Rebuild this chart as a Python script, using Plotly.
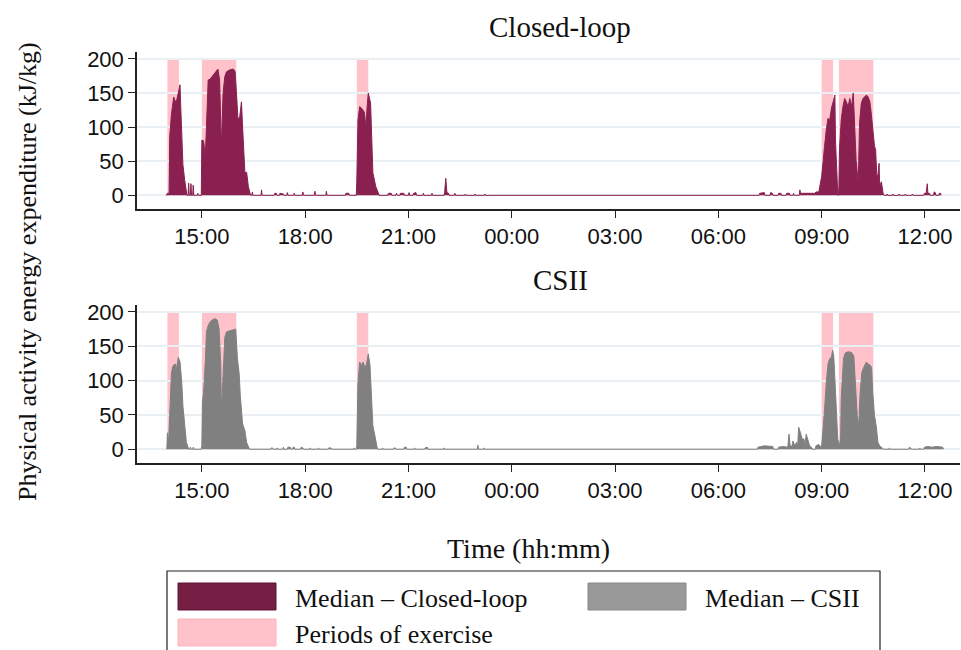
import plotly.graph_objects as go
from plotly.subplots import make_subplots
from datetime import datetime, timedelta

# ---- data: median physical activity energy expenditure (kJ/kg) ----
# clock times; anything before 13:00 belongs to the following morning
cl_time = [
    "13:58", "14:00", "14:03", "14:04", "14:07", "14:11", "14:15", "14:19", "14:22", "14:23",
    "14:25", "14:27", "14:30", "14:33", "14:34", "14:36", "14:37", "14:38", "14:40", "14:41",
    "14:42", "14:44", "14:45", "14:46", "14:52", "14:53", "14:54",
    "14:59", "15:00", "15:03", "15:06", "15:08", "15:11", "15:14", "15:20", "15:24", "15:28",
    "15:31", "15:34", "15:37", "15:40", "15:43", "15:49", "15:55", "15:58", "16:00", "16:03",
    "16:06", "16:09", "16:11", "16:12", "16:15", "16:18", "16:21", "16:24", "16:25",
    "16:27", "16:28", "16:29", "16:43", "16:44", "16:45", "17:06", "17:07", "17:10", "17:11",
    "17:15", "17:16", "17:22", "17:23", "17:28", "17:29", "17:30", "17:40", "17:41", "17:42",
    "17:55", "17:56", "17:57", "18:16", "18:17", "18:18", "18:36", "18:37", "18:38",
    "19:10", "19:11", "19:16", "19:17",
    "19:29", "19:30", "19:32", "19:35", "19:39", "19:43", "19:46", "19:48", "19:50", "19:54",
    "19:56", "19:58", "20:03", "20:07", "20:09",
    "20:24", "20:25", "20:30", "20:31", "20:38", "20:39", "20:41", "20:45", "20:46", "20:52",
    "20:53", "21:00", "21:01", "21:02", "21:08", "21:09", "21:13", "21:14", "21:25", "21:26",
    "21:27", "21:40", "21:41", "21:42", "22:02", "22:03", "22:05", "22:07", "22:10", "22:11",
    "22:20", "22:21", "22:22", "22:38", "22:39", "22:40", "22:55", "22:56", "22:57",
    "23:12", "23:13", "23:14",
    "07:11", "07:12", "07:20", "07:21", "07:30", "07:31", "07:34", "07:35", "07:44", "07:45",
    "07:49", "07:50", "07:58", "07:59", "08:04", "08:05", "08:10", "08:11", "08:12",
    "08:21", "08:22", "08:23", "08:25", "08:35", "08:40", "08:48", "08:50",
    "08:55", "09:00", "09:02", "09:05", "09:08", "09:11", "09:14", "09:17", "09:20", "09:23",
    "09:24", "09:27", "09:28", "09:29",
    "09:30", "09:31", "09:34", "09:37", "09:40", "09:43", "09:46", "09:49", "09:52", "09:55",
    "09:57", "10:00", "10:03",
    "10:04", "10:06", "10:09", "10:12", "10:15", "10:18", "10:21", "10:24", "10:26", "10:29",
    "10:32", "10:34", "10:36", "10:38", "10:40", "10:41", "10:44", "10:47", "10:49",
    "10:53", "10:54", "10:55", "11:03", "11:04", "11:05", "11:14", "11:15", "11:16",
    "11:25", "11:26", "11:27", "11:37", "11:38", "11:39",
    "11:58", "11:59", "12:02", "12:04", "12:05", "12:08", "12:09", "12:15", "12:16", "12:18",
    "12:19", "12:24", "12:25", "12:27", "12:28",
]
cl_value = [
    0, 3, 3, 86, 119, 144, 135, 150, 162, 135,
    96, 45, 23, 3, 0, 0, 18, 0, 0, 17,
    0, 0, 15, 0, 0, 3, 0,
    0, 81, 80, 57, 100, 169, 170, 176, 181, 185,
    169, 72, 150, 174, 181, 184, 185, 181, 154, 111,
    115, 137, 100, 81, 33, 34, 13, 3, 0,
    0, 5, 0, 0, 8, 0, 0, 3, 3, 0,
    0, 3, 2, 0, 0, 4, 0, 0, 3, 0,
    0, 5, 0, 0, 6, 0, 0, 6, 0,
    0, 3, 3, 0,
    0, 20, 110, 130, 127, 122, 100, 130, 150, 135,
    81, 33, 13, 3, 0,
    0, 3, 3, 0, 0, 3, 0, 0, 3, 3,
    0, 0, 4, 0, 0, 3, 4, 0, 0, 3,
    0, 0, 3, 0, 0, 4, 25, 4, 3, 0,
    0, 3, 0, 0, 2, 0, 0, 2, 0,
    0, 2, 0,
    0, 3, 4, 0, 0, 4, 3, 0, 0, 3,
    3, 0, 0, 3, 3, 0, 0, 3, 0,
    0, 8, 3, 3, 3, 4, 3, 5,
    5, 28, 42, 72, 96, 113, 110, 128, 137, 147,
    81, 13, 3, 0,
    13, 67, 110, 130, 142, 137, 130, 142, 130, 150,
    106, 52, 23,
    28, 106, 135, 142, 144, 147, 144, 137, 123, 91,
    72, 67, 28, 30, 47, 13, 20, 3, 0,
    0, 2, 0, 0, 2, 0, 0, 2, 0,
    0, 2, 0, 0, 2, 0,
    0, 3, 3, 17, 3, 3, 0, 0, 5, 4,
    0, 0, 3, 3, 0,
]

csii_time = [
    "13:59", "14:00", "14:02", "14:04", "14:07", "14:10", "14:14", "14:16", "14:19", "14:22",
    "14:25", "14:27", "14:30", "14:33", "14:36", "14:37", "14:39", "14:40", "14:41", "14:44",
    "14:45", "14:46",
    "14:59", "15:00", "15:01", "15:03", "15:06", "15:08", "15:11", "15:14", "15:19", "15:23",
    "15:27", "15:30", "15:33", "15:34", "15:37", "15:40", "15:43", "15:49", "15:55", "15:59",
    "16:02", "16:05", "16:07", "16:11", "16:15", "16:18", "16:21", "16:23",
    "17:00", "17:01", "17:03", "17:04", "17:10", "17:11", "17:12", "17:21", "17:22", "17:23",
    "17:29", "17:30", "17:34", "17:35", "17:38", "17:39", "17:41", "17:42", "17:52", "17:53",
    "17:56", "17:57", "18:08", "18:09", "18:10", "18:22", "18:23", "18:24", "18:40", "18:41",
    "18:45", "18:46", "19:24", "19:25", "19:26",
    "19:29", "19:30", "19:32", "19:35", "19:38", "19:41", "19:44", "19:47", "19:50", "19:53",
    "19:56", "19:58", "20:01", "20:04", "20:06",
    "20:14", "20:15", "20:16", "20:34", "20:35", "20:37", "20:38", "20:52", "20:53", "20:56",
    "20:57", "21:10", "21:11", "21:12", "21:28", "21:29", "21:33", "21:34", "22:01", "22:02",
    "22:03", "23:00", "23:01", "23:02", "23:11", "23:12", "23:13",
    "07:08", "07:09", "07:20", "07:35", "07:36", "07:44", "07:45", "07:52", "07:58", "08:01",
    "08:03", "08:05", "08:08", "08:10", "08:13", "08:16", "08:18", "08:20", "08:23", "08:26",
    "08:29", "08:31", "08:33", "08:36", "08:39", "08:43", "08:44", "08:49", "08:50", "08:55",
    "08:58", "09:00", "09:02", "09:05", "09:08", "09:11", "09:14", "09:17", "09:19", "09:21",
    "09:23", "09:26", "09:28", "09:31",
    "09:33", "09:34", "09:36", "09:38", "09:41", "09:46", "09:52", "09:56", "09:58", "10:00",
    "10:03",
    "10:05", "10:07", "10:10", "10:13", "10:18", "10:21", "10:25", "10:27", "10:29", "10:32",
    "10:35", "10:38", "10:41", "10:47", "10:48",
    "10:57", "10:58", "10:59", "11:32", "11:33", "11:35", "11:36", "11:50", "11:51", "11:52",
    "11:58", "11:59", "12:05", "12:12", "12:20", "12:28", "12:31", "12:32",
]
csii_value = [
    0, 24, 10, 58, 112, 122, 124, 117, 134, 127,
    97, 63, 39, 10, 3, 0, 0, 3, 0, 0,
    3, 0,
    0, 5, 68, 83, 127, 171, 180, 185, 189, 190,
    188, 175, 122, 54, 107, 163, 171, 173, 174, 175,
    132, 110, 78, 37, 27, 10, 3, 0,
    0, 2, 2, 0, 0, 2, 0, 0, 3, 0,
    0, 3, 3, 0, 0, 3, 3, 0, 0, 3,
    2, 0, 0, 2, 0, 0, 2, 0, 0, 2,
    2, 0, 0, 2, 0,
    0, 5, 97, 127, 122, 127, 119, 124, 139, 122,
    63, 34, 22, 5, 0,
    0, 2, 0, 0, 2, 2, 0, 0, 3, 3,
    0, 0, 2, 0, 0, 2, 3, 0, 0, 2,
    0, 0, 6, 0, 0, 2, 0,
    0, 3, 5, 4, 0, 0, 3, 4, 3, 3,
    22, 5, 4, 12, 5, 10, 4, 32, 24, 15,
    15, 5, 22, 15, 5, 2, 0, 0, 5, 7,
    4, 5, 24, 58, 97, 124, 132, 134, 144, 136,
    102, 49, 15, 5,
    15, 73, 112, 132, 140, 142, 141, 136, 107, 68,
    34,
    44, 83, 112, 119, 127, 124, 122, 119, 83, 49,
    34, 10, 5, 1, 0,
    0, 2, 0, 0, 3, 2, 0, 0, 2, 0,
    0, 3, 4, 3, 4, 4, 3, 0,
]

# periods of exercise (start, end)
ex_start = ["14:00", "15:00", "19:30", "09:00", "09:30"]
ex_end = ["14:20", "16:00", "19:50", "09:20", "10:30"]

tick_labels = ["15:00", "18:00", "21:00", "00:00", "03:00", "06:00", "09:00", "12:00"]
y_ticks = [0, 50, 100, 150, 200]

panel_titles = ["Closed-loop", "CSII"]
series_names = ["Median – Closed-loop", "Median – CSII"]
exercise_name = "Periods of exercise"

# ---- helpers ----
DAY1 = datetime(2020, 1, 1)


def clock(s):
    h, m = map(int, s.split(":"))
    d = DAY1 if h >= 13 else DAY1 + timedelta(days=1)
    return d.replace(hour=h, minute=m)


MAROON = "#8a2050"
MAROON_KEY = "#771e44"
GREY = "#808080"
GREY_KEY = "#999999"
PINK = "#ffc2cb"
SERIF = "Liberation Serif"
SANS = "Liberation Sans"

W, H = 961, 650
ML, MR, MT, MB = 137, 1, 52, 187
PW, PH = W - ML - MR, H - MT - MB


def px(x):
    return (x - ML) / PW


def py(y):
    return (H - MB - y) / PH


fig = make_subplots(rows=2, cols=1, vertical_spacing=0.0)
fig.update_layout(
    xaxis=dict(domain=[0, 1]), yaxis=dict(domain=[0.618, 1.0]),
    xaxis2=dict(domain=[0, 1]), yaxis2=dict(domain=[0.0, 0.3844]),
)

for row, (t, v, col) in enumerate(
    [(cl_time, cl_value, MAROON), (csii_time, csii_value, GREY)], start=1
):
    fig.add_trace(
        go.Scatter(
            x=[clock(s) for s in t], y=v, mode="lines", fill="tozeroy",
            line=dict(color=col, width=1), fillcolor=col, showlegend=False,
            hoverinfo="skip",
        ),
        row=row, col=1,
    )
    for a, b in zip(ex_start, ex_end):
        fig.add_shape(
            type="rect", x0=clock(a), x1=clock(b), y0=0, y1=200,
            fillcolor=PINK, line=dict(width=0), layer="below", row=row, col=1,
        )

x_range = [DAY1.replace(hour=13, minute=7), DAY1 + timedelta(days=1, hours=13, minutes=1)]
tick_vals = [clock(s) for s in tick_labels]

fig.update_xaxes(
    range=x_range, tickvals=tick_vals, ticktext=tick_labels, showgrid=False,
    showline=True, linecolor="#222", linewidth=1.5, ticks="outside", ticklen=7,
    tickcolor="#222", tickwidth=1.2, zeroline=False, ticklabelstandoff=0,
    tickfont=dict(family=SANS, size=22, color="#111"),
)
fig.update_yaxes(
    range=[-20, 210], tickvals=y_ticks, showgrid=True, gridcolor="#e9eff2",
    gridwidth=1.5, showline=True, linecolor="#222", linewidth=1.5,
    ticks="outside", ticklen=7, tickcolor="#222", tickwidth=1.2, zeroline=False,
    tickfont=dict(family=SANS, size=22, color="#111"),
)

ann = []
# panel titles
ann.append(dict(x=px(560), y=py(27), text=panel_titles[0], size=29))
ann.append(dict(x=px(560), y=py(280), text=panel_titles[1], size=29))
ann.append(dict(x=px(528), y=py(548), text="Time (hh:mm)", size=28))
ann.append(dict(x=px(27), y=py(272), text="Physical activity energy expenditure (kJ/kg)",
                textangle=-90, size=26))
# key text
ann.append(dict(x=px(293), y=py(598), text=series_names[0], xanchor="left", size=26))
ann.append(dict(x=px(703), y=py(598), text=series_names[1], xanchor="left", size=26))
ann.append(dict(x=px(293), y=py(634), text=exercise_name, xanchor="left", size=26))
for a in ann:
    a.setdefault("xanchor", "center")
    size = a.pop("size")
    a.update(xref="paper", yref="paper", yanchor="middle", showarrow=False,
             font=dict(family=SERIF, size=size, color="#111"))
fig.update_layout(annotations=ann)

# key frame and swatches
key_shapes = [
    dict(x0=167, y0=571, x1=880, y1=670, fillcolor="rgba(0,0,0,0)", line=dict(color="#222", width=1.2)),
    dict(x0=178, y0=583, x1=276, y1=610, fillcolor=MAROON_KEY, line=dict(color="#5e1535", width=1)),
    dict(x0=588, y0=583, x1=686, y1=610, fillcolor=GREY_KEY, line=dict(color="#888", width=1)),
    dict(x0=178, y0=619, x1=276, y1=646, fillcolor=PINK, line=dict(color="#ffb3bf", width=1)),
]
for s in key_shapes:
    fig.add_shape(type="rect", xref="paper", yref="paper",
                  x0=px(s["x0"]), x1=px(s["x1"]), y0=py(s["y1"]), y1=py(s["y0"]),
                  fillcolor=s["fillcolor"], line=s["line"])

fig.update_layout(
    width=W, height=H, margin=dict(l=ML, r=MR, t=MT, b=MB),
    paper_bgcolor="white", plot_bgcolor="white", showlegend=False,
)

fig.write_html("out.html")
